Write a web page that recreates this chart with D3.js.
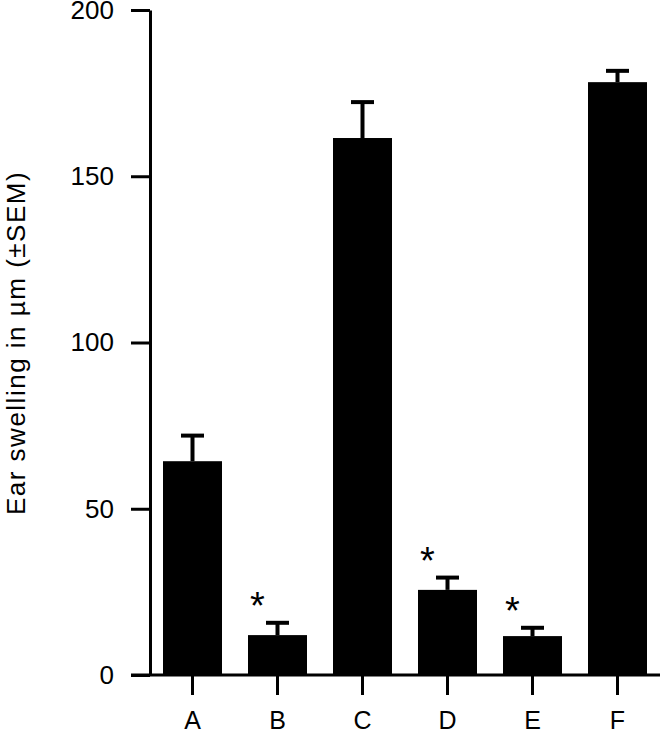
<!DOCTYPE html>
<html>
<head>
<meta charset="utf-8">
<script src="https://cdn.jsdelivr.net/npm/d3@7"></script>
<style>
  body { margin: 0; background: #fff; }
  text { font-family: "Liberation Sans", Arial, sans-serif; fill: #000; }
</style>
</head>
<body>
<svg width="660" height="734"></svg>
<script>
// data
var groups = ["A", "B", "C", "D", "E", "F"];
var means  = [64.3, 12, 161.5, 25.6, 11.7, 178.3];
var sems   = [7.7, 3.7, 10.8, 3.7, 2.5, 3.4];
var starred = ["B", "D", "E"];
var yTicks = [0, 50, 100, 150, 200];

var svg = d3.select("svg");
var g = svg.append("g");

var x = d3.scaleBand()
  .domain(groups)
  .range([150, 660])
  .paddingInner(0.306)
  .paddingOuter(0.153);

var y = d3.scaleLinear()
  .domain([0, 200])
  .range([675, 10]);

// bars
g.selectAll(".bar")
  .data(groups)
  .enter().append("rect")
    .attr("class", "bar")
    .attr("x", d => x(d))
    .attr("y", (d, i) => y(means[i]))
    .attr("width", x.bandwidth())
    .attr("height", (d, i) => y(0) - y(means[i]))
    .style("fill", "#000");

// error bars (upper only)
var capW = 23;
g.selectAll(".err")
  .data(groups)
  .enter().append("line")
    .attr("x1", d => x(d) + x.bandwidth() / 2)
    .attr("x2", d => x(d) + x.bandwidth() / 2)
    .attr("y1", (d, i) => y(means[i]))
    .attr("y2", (d, i) => y(means[i] + sems[i]))
    .style("stroke", "#000").style("stroke-width", 4);

g.selectAll(".cap")
  .data(groups)
  .enter().append("line")
    .attr("x1", d => x(d) + x.bandwidth() / 2 - capW / 2)
    .attr("x2", d => x(d) + x.bandwidth() / 2 + capW / 2)
    .attr("y1", (d, i) => y(means[i] + sems[i]))
    .attr("y2", (d, i) => y(means[i] + sems[i]))
    .style("stroke", "#000").style("stroke-width", 4);

// asterisks
g.selectAll(".star")
  .data(starred)
  .enter().append("text")
    .attr("x", d => x(d) + x.bandwidth() / 2 - 20)
    .attr("y", d => { var i = groups.indexOf(d); return y(means[i] + sems[i]) - 4; })
    .attr("text-anchor", "middle")
    .style("font-size", "38px")
    .text("*");

// y axis
var yAxis = g.append("g")
  .attr("transform", "translate(150,0)")
  .call(d3.axisLeft(y).tickValues(yTicks).tickSize(19).tickSizeOuter(0).tickPadding(17));
yAxis.select(".domain").style("stroke-width", 3);
yAxis.selectAll(".tick line").style("stroke-width", 3);
yAxis.selectAll(".tick text").style("font-size", "26px").style("font-family", "Liberation Sans, Arial, sans-serif");

// x axis
var xAxis = g.append("g")
  .attr("transform", "translate(0,675)")
  .call(d3.axisBottom(x).tickSize(20).tickSizeOuter(0).tickPadding(16));
xAxis.select(".domain").attr("d", "M131,0H660").style("stroke-width", 3);
xAxis.selectAll(".tick line").style("stroke-width", 3);
xAxis.selectAll(".tick text").style("font-size", "25px").style("font-family", "Liberation Sans, Arial, sans-serif");

// y label
g.append("text")
  .attr("transform", "translate(25,343) rotate(-90)")
  .attr("text-anchor", "middle")
  .style("font-size", "26px")
  .style("letter-spacing", "1.5px")
  .text("Ear swelling in µm (±SEM)");
</script>
</body>
</html>
